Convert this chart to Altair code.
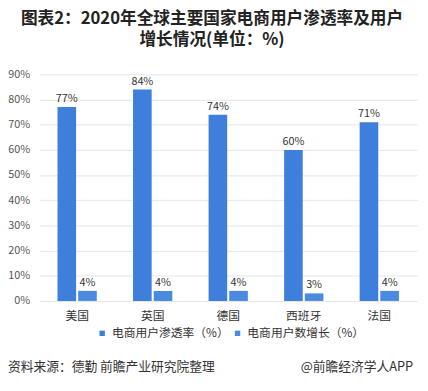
import altair as alt
import pandas as pd

countries = ["美国", "英国", "德国", "西班牙", "法国"]
series_names = ["电商用户渗透率（%）", "电商用户数增长（%）"]
penetration = [77, 84, 74, 60, 71]
growth = [4, 4, 4, 3, 4]
colors = ["#3d7fdb", "#4a8ae0"]
y_ticks = [0, 10, 20, 30, 40, 50, 60, 70, 80, 90]

title_lines = ["图表2：2020年全球主要国家电商用户渗透率及用户", "增长情况(单位：%)"]
source_text = "资料来源：德勤 前瞻产业研究院整理"
brand_text = "@前瞻经济学人APP"

rows = []
for i, c in enumerate(countries):
    rows.append({"country": c, "series": series_names[0], "value": penetration[i]})
    rows.append({"country": c, "series": series_names[1], "value": growth[i]})
df = pd.DataFrame(rows)
df["label"] = df["value"].astype(str) + "%"

FONT = "Noto Sans CJK SC"

x_scale = alt.Scale(paddingInner=0.48, paddingOuter=0.24)
xo_scale = alt.Scale(paddingInner=0.1, paddingOuter=0)
y_scale = alt.Scale(domain=[0, 90], nice=False)

x_enc = alt.X("country:N", sort=countries, title=None, scale=x_scale,
              axis=alt.Axis(labelAngle=0, ticks=False, domain=False, labelPadding=10,
                            labelFontSize=12, labelColor="#333", labelFont=FONT))
xo_enc = alt.XOffset("series:N", sort=series_names, scale=xo_scale)
y_enc = alt.Y("value:Q", title=None, scale=y_scale,
              axis=alt.Axis(values=y_ticks, labelExpr="datum.value + '%'",
                            ticks=False, labelOverlap=False, labelBound=False,
                            domain=False, labelPadding=10, labelFontSize=11,
                            labelColor="#555", labelFont=FONT,
                            gridColor="#e6e6e6", gridWidth=1))
color_enc = alt.Color("series:N", sort=series_names,
                      scale=alt.Scale(domain=series_names, range=colors),
                      legend=alt.Legend(title=None, orient="none", legendX=58, legendY=258,
                                        direction="horizontal", symbolType="square",
                                        symbolSize=30, columnPadding=2, labelFontSize=12,
                                        labelColor="#333", labelFont=FONT, symbolStrokeWidth=0))

base = alt.Chart(df)
bars = base.mark_bar().encode(x=x_enc, xOffset=xo_enc, y=y_enc, color=color_enc)
labels = base.mark_text(dy=-8, fontSize=11, color="#333", font=FONT).encode(
    x=x_enc, xOffset=xo_enc, y=y_enc, text="label:N")

title1 = alt.Chart(pd.DataFrame({"t": [title_lines[0]]})).mark_text(
    fontSize=17, fontWeight="bold", color="#222", font=FONT, baseline="middle", align="center"
).encode(text="t:N", x=alt.value(176), y=alt.value(-56))
title2 = alt.Chart(pd.DataFrame({"t": [title_lines[1]]})).mark_text(
    fontSize=17, fontWeight="bold", color="#222", font=FONT, baseline="middle", align="center"
).encode(text="t:N", x=alt.value(176), y=alt.value(-35))
src = alt.Chart(pd.DataFrame({"t": [source_text]})).mark_text(
    fontSize=13, color="#333", font=FONT, baseline="middle", align="left"
).encode(text="t:N", x=alt.value(-32), y=alt.value(298))
brand = alt.Chart(pd.DataFrame({"t": [brand_text]})).mark_text(
    fontSize=13, color="#333", font=FONT, baseline="middle", align="right"
).encode(text="t:N", x=alt.value(381), y=alt.value(298))

chart = alt.layer(bars, labels, title1, title2, src, brand).properties(
    width=385, height=231,
    background="white",
    autosize=alt.AutoSizeParams(type="none"),
    padding={"left": 32, "top": 64, "right": 3, "bottom": 80},
).configure_view(stroke=None)

chart.save("out.html", embed_options={"renderer": "svg", "actions": False})
